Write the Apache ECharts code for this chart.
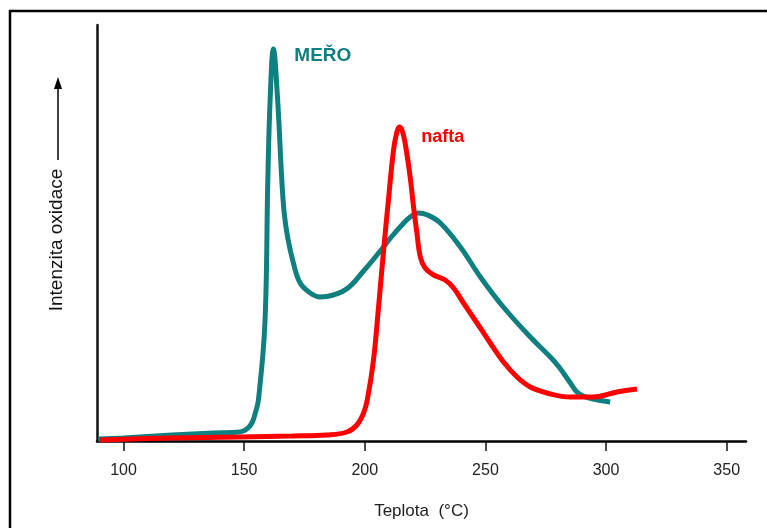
<!DOCTYPE html>
<html>
<head>
    <meta charset="utf-8">
    <title>Intenzita oxidace</title>
    <script type="text/javascript" src="https://cdn.jsdelivr.net/npm/echarts@6/dist/echarts.min.js"></script>
    <style>
        html, body { margin: 0; padding: 0; background: #fff; }
    </style>
</head>
<body>
<div id="main" style="width: 767px;height:528px;"></div>

<script type="text/javascript">
    // osa x - teplota
    var xTicks = [100, 150, 200, 250, 300, 350];

    // MEŘO - teplota a intenzita (relativni hodnoty)
    var meroX = [89.5, 100, 120, 137.3, 148.3, 151.1, 153.2, 154.6, 155.9, 158.6, 159.8, 160.8, 162.1, 163.8, 165.6,
        166.6, 168.0, 170.4, 173.2, 177.4, 181.5, 187.0, 193.0, 199.5, 206.4, 211.0, 215.0, 218.8, 222.2, 226.0,
        231.3, 239.6, 247.9, 257.4, 268.6, 276.9, 280.5, 285.2, 287.9, 290.5, 294.5, 301.7];
    var meroY = [2, 3, 6, 8, 9, 12, 18, 28, 41, 118, 261, 344, 392, 344, 261,
        228, 204, 178, 158, 148, 144, 146, 153, 170, 190, 204, 215, 224, 228, 226,
        218, 194, 164, 134, 104, 84, 74, 58, 49, 45, 42, 39];

    // nafta
    var naftaX = [90.3, 120, 148.3, 170, 184.3, 192.6, 196.7, 199.5, 201.1, 203.6, 205.7, 207.8, 209.8, 211.9, 213.3,
        214.3, 215.4, 216.7, 218.8, 220.2, 221.6, 223.0, 225.0, 228.5, 233.3, 236.8, 240.9, 246.5, 252.0, 257.5,
        263.1, 268.6, 275.5, 285.2, 294.8, 304.5, 312.8];
    var naftaY = [1, 3, 4, 5, 6, 9, 16, 28, 42, 81, 134, 191, 241, 291, 309,
        314, 311, 298, 264, 234, 208, 184, 173, 166, 161, 153, 138, 118, 98, 79,
        64, 54, 48, 44, 44, 49, 52];

    function pairs(xs, ys) {
        var out = [];
        for (var i = 0; i < xs.length; i++) {
            out.push([xs[i], ys[i]]);
        }
        return out;
    }

    var chart = echarts.init(document.getElementById('main'));
    var font = 'Liberation Sans, Arial, sans-serif';

    var option = {
        backgroundColor: '#fff',
        animation: false,
        grid: { left: 97, right: 21, top: 25, bottom: 87 },
        xAxis: {
            type: 'value',
            min: 89,
            max: 358,
            name: 'Teplota  (°C)',
            nameLocation: 'middle',
            nameGap: 62,
            nameTextStyle: { fontFamily: font, fontSize: 17, color: '#222' },
            splitLine: { show: false },
            axisLine: { lineStyle: { color: '#000', width: 2.5 } },
            axisTick: { customValues: xTicks, length: 10, inside: false, lineStyle: { color: '#111', width: 1.5 } },
            axisLabel: { customValues: xTicks, margin: 22, fontFamily: font, fontSize: 16, color: '#222' }
        },
        yAxis: {
            type: 'value',
            min: 0,
            max: 416,
            name: 'Intenzita oxidace',
            nameLocation: 'middle',
            nameGap: 31,
            nameRotate: 90,
            nameTextStyle: { fontFamily: font, fontSize: 19, color: '#111', padding: [0, 14, 0, 0] },
            splitLine: { show: false },
            axisLine: { show: true, lineStyle: { color: '#111', width: 2.5 } },
            axisTick: { show: false },
            axisLabel: { show: false }
        },
        graphic: [
            // ramecek
            { type: 'rect', shape: { x: 10, y: 11, width: 900, height: 700 }, style: { fill: 'none', stroke: '#000', lineWidth: 2.5 }, silent: true },
            // sipka u osy y
            { type: 'line', shape: { x1: 58, y1: 160, x2: 58, y2: 86 }, style: { stroke: '#000', lineWidth: 1.5 } },
            { type: 'polygon', shape: { points: [[58, 77], [54, 89], [62, 89]] }, style: { fill: '#000' } }
        ],
        series: [
            {
                name: 'MEŘO',
                type: 'line',
                data: pairs(meroX, meroY),
                smooth: 0.4,
                showSymbol: false,
                symbol: 'none',
                lineStyle: { color: '#0f7f7f', width: 5 },
                markPoint: {
                    symbol: 'circle',
                    symbolSize: 0,
                    data: [{ type: 'max' }],
                    label: {
                        show: true,
                        formatter: 'MEŘO',
                        position: 'right',
                        distance: 21,
                        offset: [0, 7],
                        fontFamily: font,
                        fontWeight: 'bold',
                        fontSize: 19,
                        color: '#0f7f7f'
                    }
                }
            },
            {
                name: 'nafta',
                type: 'line',
                data: pairs(naftaX, naftaY),
                smooth: 0.4,
                showSymbol: false,
                symbol: 'none',
                lineStyle: { color: '#ff0000', width: 5 },
                markPoint: {
                    symbol: 'circle',
                    symbolSize: 0,
                    data: [{ type: 'max' }],
                    label: {
                        show: true,
                        formatter: 'nafta',
                        position: 'right',
                        distance: 22,
                        offset: [0, 10],
                        fontFamily: font,
                        fontWeight: 'bold',
                        fontSize: 18,
                        color: '#ff0000'
                    }
                }
            }
        ]
    };

    chart.setOption(option);
</script>
</body>
</html>
